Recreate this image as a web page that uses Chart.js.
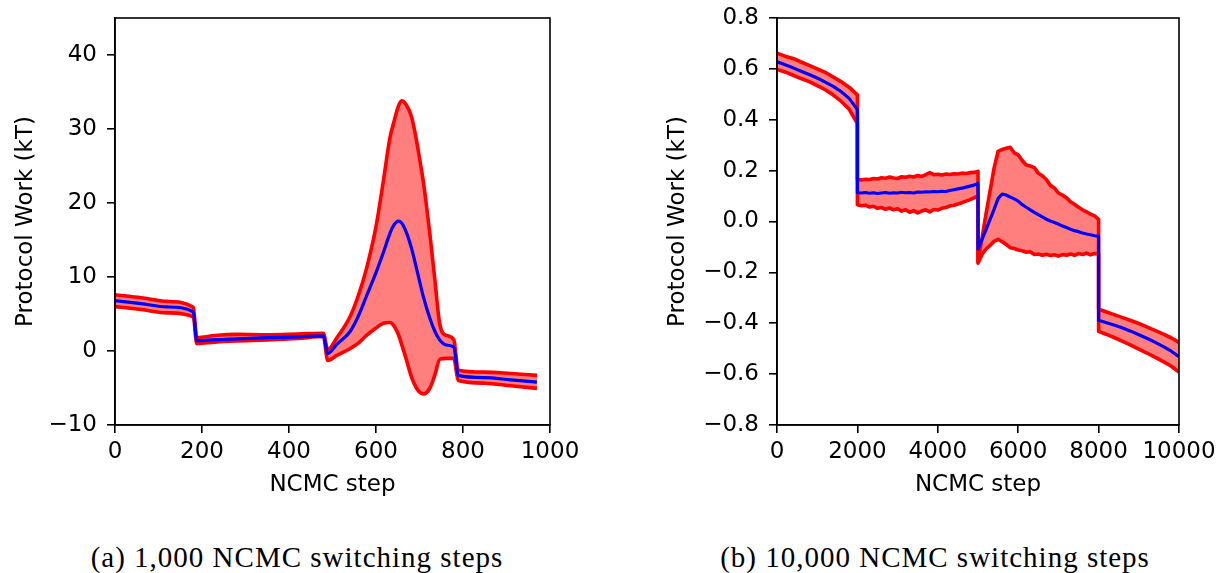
<!DOCTYPE html>
<html><head><meta charset="utf-8">
<script src="https://cdn.jsdelivr.net/npm/chart.js@4.4.1/dist/chart.umd.min.js"></script>
<style>
html,body{margin:0;padding:0;background:#fff;width:1221px;height:573px;overflow:hidden;}
.box{position:absolute;top:0;}
.cap{position:absolute;font-family:"Liberation Serif",serif;font-size:29px;color:#000;white-space:nowrap;letter-spacing:1px;transform:translateX(-50%);}
</style></head><body>
<div class="box" style="left:0;width:600px;height:500px"><canvas id="c1" width="600" height="500"></canvas></div>
<div class="box" style="left:600px;width:621px;height:500px"><canvas id="c2" width="621" height="500"></canvas></div>
<div class="cap" style="left:297px;top:541px">(a) 1,000 NCMC switching steps</div>
<div class="cap" style="left:935px;top:541px">(b) 10,000 NCMC switching steps</div>
<script>
// ---------- (a) 1,000 NCMC switching steps ----------
const leftSteps = [0, 60, 120, 180, 188, 230, 280, 350, 420, 479, 489, 510, 540, 560, 578, 600, 617, 632, 640, 651, 659, 670, 682, 693, 701, 709, 724, 735, 747, 762, 779, 789, 850, 910, 970];
const leftUpper = [7.6, 7.2, 6.7, 5.9, 1.8, 2.1, 2.25, 2.2, 2.3, 2.4, 0.2, 1.8, 4.6, 7.6, 11.1, 16.8, 23.0, 28.8, 30.7, 33.0, 33.8, 33.2, 31.6, 28.5, 25.7, 22.8, 15.7, 9.8, 3.5, 2.1, 1.5, -2.6, -2.85, -3.05, -3.3];
const leftMean  = [6.8, 6.4, 5.95, 5.3, 1.4, 1.55, 1.65, 1.8, 1.9, 2.05, -0.35, 0.9, 2.6, 4.8, 7.4, 10.6, 13.3, 15.9, 16.9, 17.55, 17.3, 16.0, 13.8, 11.2, 9.2, 7.3, 4.4, 2.7, 1.45, 0.8, 0.5, -3.3, -3.6, -3.9, -4.2];
const leftLower = [6.0, 5.6, 5.15, 4.6, 1.0, 1.2, 1.35, 1.5, 1.7, 1.95, -1.27, -0.6, 0.3, 1.1, 2.1, 3.1, 3.75, 3.85, 3.5, 2.3, 0.9, -1.2, -3.6, -5.0, -5.6, -5.8, -5.0, -3.3, -1.1, -1.0, -1.0, -4.0, -4.35, -4.7, -5.05];
const leftXTicks = [0, 200, 400, 600, 800, 1000];
const leftYTicks = [-10, 0, 10, 20, 30, 40];

// ---------- (b) 10,000 NCMC switching steps ----------
const rightSteps = [
  0, 200, 400, 600, 800, 1000, 1200, 1400, 1600, 1800, 2000,
  2000, 2100, 2200, 2300, 2400, 2500, 2600, 2700, 2800, 2900, 3000, 3100, 3200, 3300, 3400, 3500, 3600, 3700, 3800, 3900, 4000, 4100, 4200, 4300, 4400, 4500, 4600, 4700, 4800, 4900, 5000,
  5000, 5100, 5200, 5300, 5400, 5500, 5600, 5700, 5800, 5900, 6000, 6100, 6200, 6300, 6400, 6500, 6600, 6700, 6800, 6900, 7000, 7100, 7200, 7300, 7400, 7500, 7600, 7700, 7800, 7900, 8000,
  8000, 8200, 8400, 8600, 8800, 9000, 9200, 9400, 9600, 9800, 10000
];
const rightUpper = [
  0.662, 0.650, 0.641, 0.627, 0.614, 0.600, 0.586, 0.568, 0.549, 0.527, 0.498,
  0.166, 0.163, 0.166, 0.165, 0.169, 0.167, 0.172, 0.170, 0.175, 0.171, 0.169, 0.176, 0.174, 0.178, 0.175, 0.181, 0.177, 0.184, 0.192, 0.184, 0.186, 0.183, 0.187, 0.185, 0.188, 0.187, 0.190, 0.189, 0.192, 0.193, 0.197,
  -0.158, -0.065, 0.030, 0.120, 0.210, 0.276, 0.283, 0.288, 0.292, 0.270, 0.262, 0.240, 0.222, 0.218, 0.212, 0.190, 0.180, 0.165, 0.142, 0.132, 0.112, 0.104, 0.093, 0.078, 0.068, 0.056, 0.046, 0.038, 0.029, 0.022, 0.008,
  -0.345, -0.356, -0.367, -0.378, -0.389, -0.401, -0.414, -0.428, -0.442, -0.457, -0.475
];
const rightMean = [
  0.628, 0.616, 0.604, 0.591, 0.578, 0.564, 0.548, 0.531, 0.510, 0.483, 0.440,
  0.113, 0.112, 0.114, 0.111, 0.113, 0.110, 0.112, 0.114, 0.111, 0.113, 0.112, 0.115, 0.113, 0.114, 0.112, 0.116, 0.115, 0.117, 0.116, 0.118, 0.117, 0.119, 0.118, 0.122, 0.125, 0.128, 0.131, 0.135, 0.139, 0.143, 0.150,
  -0.108, -0.070, -0.032, 0.008, 0.048, 0.090, 0.108, 0.104, 0.096, 0.089, 0.080, 0.066, 0.056, 0.046, 0.036, 0.027, 0.018, 0.009, 0.002, -0.004, -0.010, -0.018, -0.024, -0.030, -0.036, -0.040, -0.045, -0.049, -0.052, -0.056, -0.058,
  -0.388, -0.398, -0.408, -0.419, -0.431, -0.445, -0.459, -0.474, -0.491, -0.509, -0.532
];
const rightLower = [
  0.598, 0.588, 0.575, 0.562, 0.550, 0.534, 0.518, 0.497, 0.472, 0.440, 0.385,
  0.066, 0.062, 0.064, 0.057, 0.060, 0.052, 0.055, 0.048, 0.053, 0.046, 0.050, 0.041, 0.046, 0.036, 0.043, 0.034, 0.041, 0.046, 0.038, 0.047, 0.045, 0.052, 0.055, 0.061, 0.064, 0.069, 0.074, 0.080, 0.086, 0.093, 0.101,
  -0.164, -0.130, -0.108, -0.094, -0.078, -0.070, -0.080, -0.090, -0.103, -0.106, -0.112, -0.115, -0.121, -0.119, -0.130, -0.128, -0.133, -0.129, -0.134, -0.131, -0.136, -0.130, -0.133, -0.128, -0.133, -0.126, -0.130, -0.124, -0.131, -0.126, -0.128,
  -0.432, -0.444, -0.457, -0.471, -0.486, -0.502, -0.517, -0.533, -0.550, -0.568, -0.592
];
const rightXTicks = [0, 2000, 4000, 6000, 8000, 10000];
const rightYTicks = [-0.8, -0.6, -0.4, -0.2, 0.0, 0.2, 0.4, 0.6, 0.8];

const FONT = {family: 'DejaVu Sans', size: 23};
const minus = s => String(s).replace('-', '\u2212');

const framePlugin = {
  id: 'frame',
  afterDraw(chart) {
    const {ctx, chartArea: a} = chart;
    ctx.save();
    ctx.strokeStyle = '#000';
    ctx.lineWidth = 1.6;
    ctx.strokeRect(a.left, a.top, a.right - a.left, a.bottom - a.top);
    ctx.restore();
  }
};

function pts(xs, ys) { return xs.map((x, i) => ({x: x, y: ys[i]})); }

function makeChart(id, cfg) {
  const lineBase = {pointRadius: 0, borderJoinStyle: 'round', borderCapStyle: 'butt',
    cubicInterpolationMode: cfg.smooth ? 'monotone' : 'default', tension: 0};
  return new Chart(document.getElementById(id), {
    type: 'line',
    data: {
      datasets: [
        Object.assign({}, lineBase, {data: pts(cfg.steps, cfg.upper), borderColor: '#ff0000', borderWidth: 3.6, fill: false, order: 1}),
        Object.assign({}, lineBase, {data: pts(cfg.steps, cfg.lower), borderColor: '#ff0000', borderWidth: 3.6, fill: '-1', backgroundColor: 'rgba(255,0,0,0.5)', order: 2}),
        Object.assign({}, lineBase, {data: pts(cfg.steps, cfg.mean), borderColor: '#0000ff', borderWidth: 3.2, fill: false, order: 0})
      ]
    },
    options: {
      responsive: false, animation: false, devicePixelRatio: 1,
      layout: {padding: {left: 0, top: 18, right: cfg.padRight, bottom: 0}},
      plugins: {legend: {display: false}, tooltip: {enabled: false}, filler: {drawTime: 'beforeDatasetsDraw'}},
      scales: {
        x: {
          type: 'linear', min: cfg.xMin, max: cfg.xMax,
          afterBuildTicks: s => { s.ticks = cfg.xTicks.map(v => ({value: v})); },
          afterFit: s => { s.height = 75; s.paddingLeft = 0; s.paddingRight = 0; },
          grid: {drawOnChartArea: false, drawTicks: true, tickLength: 8, color: '#000', lineWidth: 1.6},
          border: {display: true, color: '#000', width: 1.6},
          ticks: {color: '#000', font: FONT, padding: 5, maxRotation: 0, autoSkip: false, callback: v => minus(cfg.xFmt(v))},
          title: {display: true, text: 'NCMC step', color: '#000', font: FONT, padding: {top: 0, bottom: 1}}
        },
        y: {
          type: 'linear', min: cfg.yMin, max: cfg.yMax,
          afterBuildTicks: s => { s.ticks = cfg.yTicks.map(v => ({value: v})); },
          afterFit: s => { s.width = cfg.yWidth; s.paddingTop = 0; s.paddingBottom = 0; },
          grid: {drawOnChartArea: false, drawTicks: true, tickLength: 8, color: '#000', lineWidth: 1.6},
          border: {display: true, color: '#000', width: 1.6},
          ticks: {color: '#000', font: FONT, padding: 10, autoSkip: false, callback: v => minus(cfg.yFmt(v))},
          title: {display: true, text: 'Protocol Work (kT)', color: '#000', font: FONT, padding: {top: cfg.yTitlePad, bottom: 0}}
        }
      }
    },
    plugins: [framePlugin]
  });
}

makeChart('c1', {
  steps: leftSteps, upper: leftUpper, mean: leftMean, lower: leftLower, smooth: true,
  xMin: 0, xMax: 1000, yMin: -10, yMax: 45, xTicks: leftXTicks, yTicks: leftYTicks,
  xFmt: v => Math.round(v), yFmt: v => Math.round(v),
  padRight: 50, yWidth: 115, yTitlePad: 12
});
makeChart('c2', {
  steps: rightSteps, upper: rightUpper, mean: rightMean, lower: rightLower, smooth: false,
  xMin: 0, xMax: 10000, yMin: -0.8, yMax: 0.8, xTicks: rightXTicks, yTicks: rightYTicks,
  xFmt: v => Math.round(v), yFmt: v => v.toFixed(1),
  padRight: 42, yWidth: 177, yTitlePad: 64
});
</script>
</body></html>
